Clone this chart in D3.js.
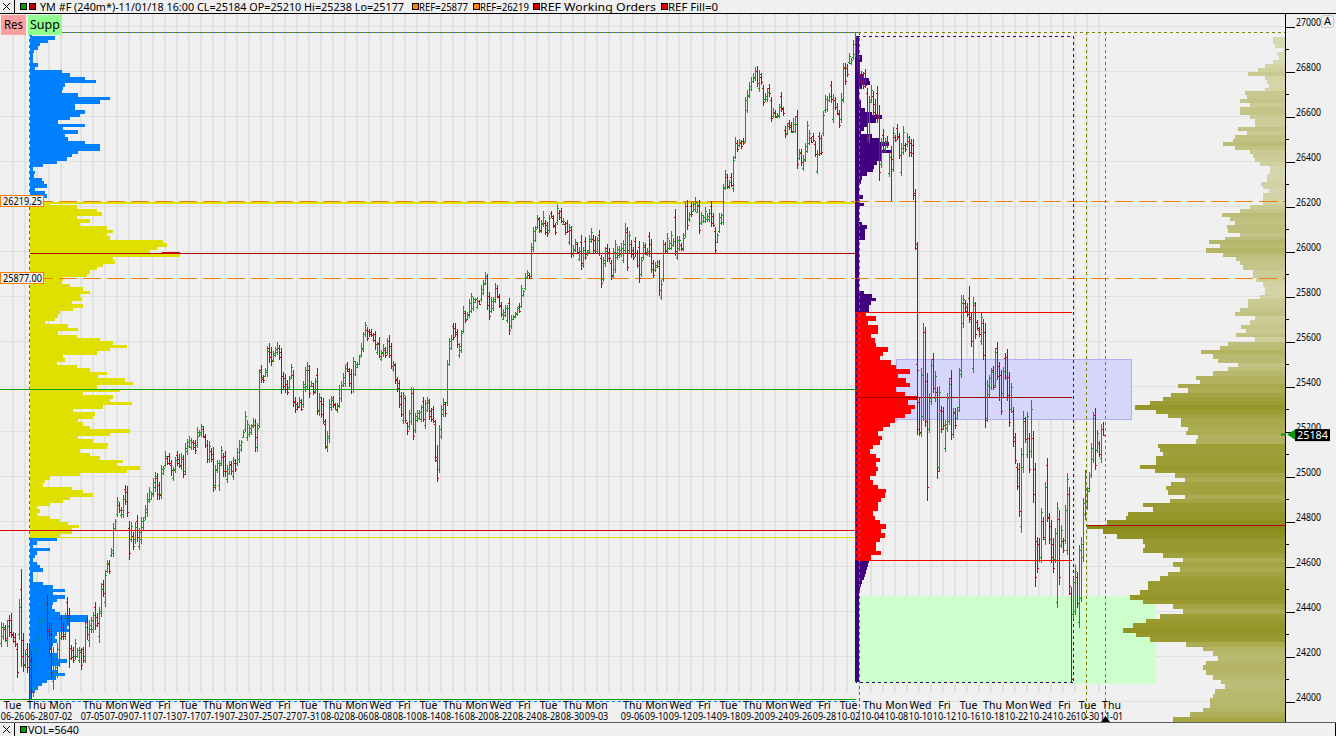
<!DOCTYPE html>
<html><head><meta charset="utf-8">
<script src="https://cdnjs.cloudflare.com/ajax/libs/d3/7.8.5/d3.min.js"></script>
<style>html,body{margin:0;padding:0;background:#f0f0f0;overflow:hidden}svg{display:block}</style>
</head><body><div id="c"></div>
<script>
// ---------- DATA: [high, low, open, close] per 240-minute bar ----------
const barsJun = [[24352,24241,24260,24330],[24348,24271,24290,24330],[24338,24264,24320,24280],[24360,24241,24270,24335],[24382,24286,24360,24305],[24390,24278,24360,24300],[24308,24256,24295,24265],[24301,24241,24285,24255],[24256,24101,24230,24130],[24452,24271,24300,24420],[24586,24153,24500,24200],[24301,24130,24270,24160],[24227,24145,24165,24210],[24256,24123,24230,24150],[24256,24004,24200,24040],[24227,24004,24180,24040],[24271,24019,24060,24230],[24301,24123,24160,24270],[24316,24197,24220,24290],[24382,24249,24280,24350],[24434,24301,24330,24410],[24464,24345,24370,24440],[24456,24330,24360,24430],[24471,24271,24430,24310],[24345,24197,24320,24230],[24345,24093,24300,24130],[24241,24049,24090,24200],[24167,24093,24110,24150],[24256,24101,24130,24230],[24315,24153,24180,24280],[24382,24271,24370,24290],[24345,24271,24330,24290],[24389,24271,24300,24370],[24464,24345,24440,24370],[24412,24145,24380,24190],[24249,24182,24235,24195],[24241,24167,24225,24180],[24274,24182,24200,24260],[24234,24189,24200,24225],[24241,24167,24180,24225],[24234,24138,24220,24160],[24241,24167,24230,24180],[24360,24167,24200,24330],[24375,24271,24350,24300],[24360,24241,24270,24340],[24375,24301,24320,24360],[24397,24301,24320,24380],[24441,24315,24420,24340],[24389,24330,24375,24345],[24419,24256,24290,24390],[24526,24375,24400,24500],[24537,24464,24520,24480],[24582,24419,24440,24560],[24626,24567,24580,24615],[24626,24564,24610,24580],[24678,24641,24650,24670],[24789,24641,24660,24770],[24811,24760,24770,24800]];
const barsJul1 = [[24907,24818,24830,24890],[24886,24834,24870,24850],[24864,24812,24825,24850],[24916,24812,24830,24900],[24960,24871,24940,24890],[24956,24819,24930,24840],[24800,24627,24770,24660],[24797,24708,24720,24780],[24752,24671,24735,24690],[24797,24700,24720,24775],[24826,24708,24800,24730],[24767,24671,24690,24750],[24819,24700,24720,24800],[24819,24760,24775,24805],[24871,24805,24820,24855]];
const barsJul2 = [[24926,24819,24840,24900],[24953,24879,24890,24935],[24930,24893,24900,24920],[24993,24908,24925,24975],[25019,24930,24950,25000],[25012,24893,24990,24920],[24975,24893,24960,24915],[25049,24898,24920,25030],[25044,25004,25015,25035],[25111,25041,25050,25090],[25089,25049,25080,25060],[25104,25049,25090,25060],[25071,25001,25050,25025],[25041,24978,24990,25025],[25086,25012,25030,25070],[25111,25046,25095,25060],[25096,25034,25075,25050],[25101,25027,25045,25085],[25093,24993,25075,25010],[25145,25004,25020,25125],[25164,25093,25110,25150],[25178,25123,25135,25160],[25167,25116,25130,25150],[25160,25116,25150,25130],[25160,25098,25145,25115],[25219,25123,25140,25195],[25204,25175,25180,25195],[25231,25175,25185,25220],[25222,25167,25210,25180],[25185,25126,25175,25140],[25160,25056,25140,25075],[25156,25056,25075,25135],[25123,25064,25110,25075],[25130,24930,25100,24950],[25049,24938,24960,25030],[25071,25012,25025,25060],[25071,24933,24960,25050],[25135,25044,25060,25115],[25101,24997,25085,25020],[25111,24997,25090,25020],[25049,24970,24985,25030],[25067,25004,25015,25050],[25067,25004,25055,25020],[25086,24982,25000,25070],[25074,25019,25060,25030],[25123,25046,25060,25105],[25160,25059,25075,25140],[25160,25108,25120,25150],[25204,25167,25175,25195],[25289,25197,25210,25265],[25249,25157,25175,25230],[25227,25175,25185,25215],[25231,25182,25195,25220],[25258,25212,25225,25245],[25253,25108,25225,25175],[25234,25108,25130,25215],[25474,25212,25225,25460],[25493,25412,25470,25430],[25449,25412,25440,25425],[25478,25438,25445,25470],[25578,25441,25460,25555],[25589,25504,25570,25530],[25572,25490,25550,25510],[25557,25508,25515,25545],[25575,25530,25540,25565],[25594,25538,25550,25570],[25582,25515,25570,25530],[25567,25364,25550,25445],[25464,25382,25445,25400],[25453,25367,25435,25385],[25427,25360,25410,25375],[25444,25385,25395,25430],[25498,25429,25440,25485],[25471,25308,25450,25330],[25352,25281,25335,25300],[25330,25293,25320,25305],[25350,25301,25310,25340],[25342,25289,25330,25300],[25422,25301,25320,25410],[25486,25375,25395,25470],[25505,25382,25400,25490],[25493,25348,25470,25370],[25422,25394,25400,25415],[25412,25360,25400,25375],[25434,25363,25380,25420],[25478,25271,25450,25295],[25367,25268,25290,25350],[25350,25256,25335,25275],[25345,25231,25320,25245],[25252,25120,25230,25135],[25200,25108,25130,25180],[25341,25145,25170,25320]];
const barsAug = [[25356,25291,25305,25340],[25356,25301,25345,25320],[25323,25294,25315,25300],[25323,25282,25295,25310],[25405,25301,25315,25385],[25420,25331,25345,25405],[25457,25397,25405,25440],[25494,25397,25415,25480],[25508,25464,25500,25475],[25479,25397,25465,25415],[25474,25365,25455,25385],[25531,25368,25385,25510],[25513,25445,25455,25500],[25508,25479,25485,25500],[25538,25494,25500,25530],[25590,25531,25540,25570],[25642,25553,25565,25630],[25685,25620,25630,25670],[25661,25600,25650,25615],[25654,25620,25645,25630],[25652,25617,25640,25625],[25634,25597,25625,25605],[25645,25560,25630,25585],[25597,25538,25550,25585],[25617,25523,25590,25535],[25560,25513,25520,25550],[25587,25531,25545,25570],[25572,25526,25560,25540],[25612,25538,25550,25600],[25627,25526,25600,25540],[25590,25476,25580,25490],[25511,25464,25475,25500],[25501,25409,25495,25425],[25439,25375,25430,25390],[25427,25301,25415,25320],[25375,25261,25355,25275],[25375,25231,25250,25360],[25356,25237,25345,25250],[25242,25183,25235,25200],[25294,25205,25220,25280],[25397,25227,25245,25385],[25390,25160,25370,25180],[25279,25193,25205,25265],[25294,25242,25250,25280],[25294,25249,25260,25285],[25316,25242,25255,25305],[25353,25242,25335,25255],[25338,25209,25225,25325],[25350,25286,25295,25340],[25341,25249,25330,25265],[25301,25242,25290,25255],[25313,25234,25300,25245],[25249,25064,25230,25085],[25138,24975,25070,24990],[25227,25012,25030,25210],[25316,25163,25180,25300],[25345,25264,25275,25330],[25331,25264,25320,25280],[25516,25313,25330,25500],[25612,25489,25500,25600],[25627,25560,25570,25610],[25679,25605,25665,25620],[25679,25617,25660,25630],[25652,25568,25640,25585],[25590,25526,25540,25580],[25649,25545,25560,25635],[25756,25634,25645,25735],[25734,25682,25725,25695],[25731,25694,25700,25720],[25785,25701,25715,25770],[25812,25723,25735,25800],[25797,25735,25745,25785],[25790,25768,25772,25785],[25794,25741,25750,25780],[25782,25760,25778,25765],[25849,25775,25785,25830],[25871,25805,25815,25855],[25905,25849,25860,25890],[25896,25738,25880,25760],[25819,25694,25800,25710],[25794,25726,25735,25780],[25797,25734,25745,25785],[25856,25768,25780,25835],[25849,25790,25835,25800],[25809,25745,25795,25755],[25775,25708,25760,25720],[25741,25694,25700,25730],[25760,25705,25715,25745],[25760,25679,25695,25745],[25790,25627,25770,25650],[25716,25652,25665,25700],[25716,25694,25700,25710],[25731,25701,25708,25725],[25753,25711,25720,25745],[25768,25726,25755,25735],[25849,25745,25755,25835],[25827,25797,25805,25820],[25901,25827,25835,25885],[25916,25874,25880,25905],[25901,25874,25895,25880]];
const barsSep1 = [[26034,25876,25890,26020],[26108,25997,26010,26090],[26111,26042,26050,26100],[26160,26096,26105,26145],[26153,26079,26140,26095],[26138,26079,26090,26125],[26178,26108,26120,26150],[26138,26071,26125,26085],[26130,26064,26115,26080],[26160,26079,26095,26145],[26179,26145,26170,26155],[26160,26101,26145,26115],[26123,26071,26110,26085],[26209,26116,26130,26190],[26182,26138,26170,26150],[26193,26123,26180,26135],[26145,26116,26120,26135],[26130,26071,26120,26085],[26138,26079,26125,26090],[26119,26027,26040,26105],[26113,25968,26095,25990],[26027,25975,25985,26010],[26053,25997,26005,26040],[26042,25985,26030,25995],[26016,25957,25965,26000],[26071,25916,26040,25945],[26019,25926,25940,26005],[26064,25960,26045,25975],[26005,25978,25985,25995],[26071,25990,26005,26055],[26101,26034,26045,26085],[26071,25990,26055,26005],[26067,25987,26050,26000],[26064,25990,26000,26050],[26093,25978,26070,25990],[25982,25837,25970,25860],[25975,25861,25875,25960],[26019,25931,25945,26000],[26031,25953,26015,25970],[26012,25953,25995,25970],[25960,25871,25945,25890],[26012,25879,25895,25995],[26049,25904,25920,26030],[26022,25960,25975,26010],[26022,25968,25980,26005],[26034,25975,25985,26015],[26049,25945,25960,26030],[26123,25990,26005,26100],[26108,25913,26085,25930],[26090,25990,26005,26070],[26049,25968,26030,25985],[26019,25960,26005,25975],[26064,25972,26045,25990],[26005,25923,25990,25940],[26046,25856,26020,25880],[25975,25886,25900,25960],[26042,25960,25975,26025],[26034,25982,26020,25995],[26012,25978,25985,26000],[26086,25975,26065,25990],[26052,25901,26030,25920],[25960,25879,25945,25895],[25953,25908,25915,25940],[25960,25923,25930,25950],[25960,25800,25935,25825],[25871,25782,25795,25855],[26049,25864,25875,26030],[26042,25990,26030,26000],[26079,25990,26005,26060],[26049,26005,26015,26035],[26089,26005,26015,26070],[26056,26019,26025,26045],[26185,25978,26150,26000],[26068,25960,25975,26050],[26067,26002,26012,26050],[26034,26002,26025,26010],[26079,26002,26012,26060],[26218,26056,26070,26200],[26227,26093,26200,26115],[26175,26130,26140,26165],[26216,26153,26200,26165],[26219,26175,26180,26210],[26239,26175,26185,26220],[26216,26167,26175,26205],[26227,26076,26200,26095],[26175,26116,26125,26160],[26160,26126,26135,26150],[26197,26123,26135,26180],[26167,26130,26140,26155],[26185,26130,26140,26170],[26222,26108,26200,26125],[26167,26105,26155,26115],[26105,25990,26090,26005],[26082,26034,26040,26070],[26167,26079,26090,26150],[26170,26116,26125,26160],[26298,26116,26130,26280]];
const barsSep2 = [[26360,26271,26285,26340],[26342,26274,26330,26290],[26316,26274,26285,26305],[26345,26286,26330,26295],[26422,26264,26280,26405],[26505,26407,26420,26480],[26493,26441,26480,26455],[26496,26461,26470,26485],[26493,26453,26480,26465],[26501,26471,26490,26480],[26686,26478,26490,26670],[26715,26612,26625,26695],[26752,26678,26690,26735],[26775,26712,26720,26755],[26789,26745,26755,26775],[26816,26757,26770,26800],[26822,26727,26800,26745],[26804,26708,26725,26785],[26789,26738,26775,26750],[26738,26644,26725,26660],[26704,26664,26675,26690],[26723,26664,26675,26705],[26742,26686,26725,26700],[26686,26575,26670,26590],[26634,26590,26600,26620],[26627,26590,26615,26600],[26612,26590,26595,26605],[26653,26590,26600,26640],[26708,26619,26690,26635],[26641,26600,26630,26615],[26555,26501,26540,26520],[26567,26515,26525,26555],[26582,26538,26570,26550],[26575,26523,26560,26535],[26590,26523,26530,26565],[26600,26523,26535,26565],[26627,26364,26600,26385],[26452,26404,26415,26440],[26452,26379,26435,26395],[26427,26357,26370,26405],[26481,26397,26410,26465],[26578,26434,26445,26560],[26538,26471,26480,26525],[26508,26478,26500,26485],[26523,26486,26510,26495],[26490,26419,26475,26430],[26449,26342,26355,26430],[26530,26422,26510,26435],[26515,26427,26500,26440],[26622,26511,26525,26605],[26693,26612,26625,26675],[26690,26619,26630,26670],[26701,26664,26670,26690],[26757,26659,26740,26675],[26698,26570,26585,26670],[26686,26627,26670,26640],[26656,26604,26640,26615],[26627,26548,26610,26560],[26701,26570,26585,26670],[26834,26659,26675,26815],[26837,26738,26820,26755],[26831,26775,26815,26785],[26878,26831,26840,26865],[26856,26826,26835,26850],[26938,26849,26860,26920],[26970,26863,26875,26950]];
const barsOct1 = [[26953,26797,26930,26815],[26834,26738,26815,26755],[26802,26738,26785,26750],[26797,26719,26780,26735],[26808,26723,26790,26740],[26723,26482,26700,26510],[26689,26482,26500,26660],[26738,26657,26670,26715],[26709,26598,26690,26620],[26674,26590,26655,26610],[26734,26568,26700,26590],[26649,26309,26600,26350],[26501,26368,26385,26480],[26541,26435,26515,26455],[26501,26442,26455,26485],[26509,26457,26490,26470],[26435,26328,26345,26420],[26467,26223,26440,26410],[26550,26349,26365,26525],[26516,26486,26505,26495],[26565,26494,26545,26510],[26523,26408,26505,26425],[26479,26335,26350,26460],[26556,26427,26440,26530],[26479,26442,26470,26455],[26523,26464,26475,26505],[26509,26420,26490,26440],[26497,26420,26480,26435],[26497,26227,26470,26260],[26275,26005,26250,26030],[26039,25430,26015,25470]];
const barsOct2 = [[25533,25182,25500,25210],[25353,25178,25330,25195],[25479,25172,25190,25450],[25678,25246,25265,25640],[25661,25219,25640,25245],[25456,24891,25420,24950],[25367,25193,25210,25345],[25519,25316,25335,25495],[25545,25367,25520,25390],[25467,25330,25345,25445],[25397,24987,25375,25020],[25400,25019,25040,25375],[25311,25190,25295,25210],[25308,25205,25290,25225],[25249,25108,25125,25230],[25367,25197,25215,25345],[25434,25227,25245,25410],[25471,25160,25435,25185],[25301,25168,25185,25280],[25301,25209,25285,25225],[25308,25249,25260,25295],[25479,25286,25305,25455],[25804,25434,25470,25770],[25804,25659,25680,25785],[25782,25723,25770,25735],[25767,25708,25750,25720],[25844,25678,25790,25700],[25723,25575,25705,25600],[25797,25459,25480,25770],[25775,25607,25760,25630],[25693,25649,25685,25660],[25664,25619,25650,25630],[25723,25582,25600,25705],[25696,25516,25680,25540],[25678,25215,25640,25250],[25427,25242,25260,25405],[25449,25353,25365,25435],[25479,25382,25395,25460],[25489,25382,25470,25395],[25567,25390,25405,25550],[25597,25427,25570,25445],[25508,25335,25490,25350],[25471,25271,25450,25290],[25486,25353,25370,25465],[25545,25427,25525,25440],[25564,25335,25530,25360],[25464,25219,25440,25240],[25412,25282,25300,25395],[25308,25130,25290,25155],[25190,25052,25175,25070],[25056,24938,25040,24955],[25056,24819,25030,24845],[25123,24748,24780,25100],[25289,25012,25040,25260],[25264,25145,25245,25165],[25286,25079,25100,25265],[25193,25012,25170,25030],[25338,25082,25110,25300],[25200,24882,25170,24920],[25059,24508,25030,24550],[24727,24570,24710,24590],[24723,24619,24700,24640],[24860,24612,24640,24840],[24819,24715,24800,24730],[24975,24693,24720,24950],[25079,24797,25050,24820],[24834,24700,24815,24720],[24804,24612,24780,24640],[24723,24567,24700,24590],[24767,24612,24630,24745],[24886,24412,24440,24860],[24849,24515,24810,24550],[24782,24678,24695,24760],[24723,24656,24710,24670],[24871,24700,24715,24850],[25012,24649,24670,24985],[24953,24471,24920,24510],[24508,24083,24480,24100],[24552,24363,24385,24530],[24604,24382,24400,24580],[24575,24412,24550,24435],[24693,24326,24350,24670],[24730,24441,24460,24700],[24901,24619,24640,24880],[25027,24804,24830,25000],[24953,24849,24865,24935],[25019,24931,24945,25005],[25145,24990,25005,25125],[25283,25056,25075,25260],[25301,25027,25270,25050],[25204,25101,25115,25190],[25157,25086,25145,25100],[25231,25059,25080,25210],[25238,25177,25210,25184]];

// bar slot at which each run of bars begins
const barRuns = [[0,barsJun],[58,barsJul1],[73,barsJul2],[165,barsAug],[265,barsSep1],[362,barsSep2],[428,barsOct1],[458,barsOct2]];

// Volume profile at the left
const leftBlueTop = [2,25,18,10,8,4,3,3,3,8,5,32,40,55,66,35,33,32,48,80,70,45,45,55,50,40,28,55,33,48,35,38,55,70,70,48,42,37,27,13,3,5,4,12,14,17,5,15,17,3];
const leftYellowA = [20,47,67,72,47,60,50,77,83,77,80];
const leftYellowB = [133,137,127,120,150,83,85,73,67,60,57,33,32,40,53,60,50,52,42,53,43,30,28,25,15,38,48,28,47,70,83,97,80,67,33,35,27,47,60,77,68,95,103,67,90,53,83,80,102,73,43,65,63,48,53,60,100,80,48,63,78,77,50,60,70,93,87,110,97,50,20,15,13,42,53,63,40];
const leftYellowC = [33,20,7,10,7,20,30,38,49,42,42,30];
const leftBlueLow = [27,7,3,20,7,5,3,7,10,13,3,3,3,13,23,35,23,35,27,23,22,25,30,58,57,40,37,40,27,25,27,23,22,20,27,27,37,30,22,27,35,25,17,12,8,5,2,2];

// Volume profile in the middle
const midPurpleA = [2,2,2,2,2,6,6,4,2,2,8,13,14,6,3,2,2,5,5,9,16,26,20,11,8,5,16,23,33,25,35,25,25,21,18,17,11,6,5,3,3,2,7,2,8,2,2,2,3,6,11,9,9,9,3,2];
const midPurpleB = [2,2,2,2,2,3,2,2,2,2];
const midPurpleC = [2,3,3,8,16,20,15,13,13];
const midRed = [11,21,13,23,23,16,20,21,33,28,25,36,41,55,43,51,55,41,50,63,53,60,56,50,40,35,28,23,27,25,18,15,21,25,21,23,21,15,18,23,31,30,26,23,23,18,20,25,31,26,30,25,21,21,26,16];
const midPurpleD = [13,12,11,10,9,8,6,5,4,3,3,2,2,2,2,2,2,2,2,2,2,2,2,2,2,2,2,2,2,2,2,2,2,2,2,2];

// Volume profile at the right
const rightTop = [12,12,10,2,8,6,12,20,27,37,20,18,16,20,40,38,45,35,45,45,35,30,30,47,38,50,52,62,50,35,32,30,25,15,15,18,18,24,22,16,22,22,22,35,45,63,55,50,58,57,45,60,76,65];
const rightMid = [79,62,49,45,42,32,32,29,22,20,20,25,37,37,45,50,30,35,44,39,49,30,57,65,84,72,67,47,57,72,89,85,107,97,114,122,135,150,129,117,104,104,97,99,87,89,127,125,122,129,129,145,130,110,100,114,119,117,100,115,142,132,157,159];
const rightLow = [178,198,182,168,142,140,142,122,102,112,105,117,125,137,137,145,155,142,112,102,125,139,152,162,149,135,99,82,72,67,79,82,79,72,64,60,70,72,75,75,82,95,112];

// Price axis and reference levels
const majorTicks = [27000,26800,26600,26400,26200,26000,25800,25600,25400,25200,25000,24800,24600,24400,24200,24000];
const minorTicks = [26900,26700,26500,26300,26100,25900,25700,25500,25300,25100,24900,24700,24500,24300,24100];
const refLevels = [26219.25,25877];
const lastPrice = 25184;

// Date axis
const dateSlots = [5.5,17.5,29.5,45.5,57.5,69.5,81.5,93.5,105.5,117.5,129.5,141.5,153.5,165.5,177.5,189.5,201.5,213.5,225.5,237.5,249.5,261.5,273.5,285.5,297.5,315.5,327.5,339.5,351.5,363.5,375.5,387.5,399.5,411.5,423.5,435.5,447.5,459.5,471.5,483.5,495.5,507.5,519.5,531.5,543,555];
const dayLabels = ["Tue","Thu","Mon","Thu","Mon","Wed","Fri","Tue","Thu","Mon","Wed","Fri","Tue","Thu","Mon","Wed","Fri","Tue","Thu","Mon","Wed","Fri","Tue","Thu","Mon","Thu","Mon","Wed","Fri","Tue","Thu","Mon","Wed","Fri","Tue","Thu","Mon","Wed","Fri","Tue","Thu","Mon","Wed","Fri","Tue","Thu"];
const dateLabels = ["06-26","06-28","07-02","07-05","07-09","07-11","07-13","07-17","07-19","07-23","07-25","07-27","07-31","08-02","08-06","08-08","08-10","08-14","08-16","08-20","08-22","08-24","08-28","08-30","09-03","09-06","09-10","09-12","09-14","09-18","09-20","09-24","09-26","09-28","10-02","10-04","10-08","10-10","10-12","10-16","10-18","10-22","10-24","10-26","10-30","11-01"];

// ---------- DRAWING ----------
const W=1336,H=736, axisX=1285, plotBottom=722;
const svg=d3.select("#c").append("svg").attr("width",W).attr("height",H).style("background","#f0f0f0");
const y=d3.scaleLinear().domain([27000,24000]).range([26,701]);
const x=d3.scaleLinear().domain([0,551]).range([1,1103]);
const vol=d3.scaleLinear().domain([0,200]).range([0,200]);
const py=p=>Math.round(y(p));
const font='"Noto Sans",sans-serif';

function hline(yy,x1,x2,color,w,dash){return svg.append("line").attr("x1",x1).attr("x2",x2).attr("y1",yy).attr("y2",yy).attr("stroke",color).attr("stroke-width",w||1).attr("stroke-dasharray",dash||null).attr("shape-rendering","crispEdges");}
function vline(xx,y1,y2,color,w,dash){return svg.append("line").attr("x1",xx).attr("x2",xx).attr("y1",y1).attr("y2",y2).attr("stroke",color).attr("stroke-width",w||1).attr("stroke-dasharray",dash||null).attr("shape-rendering","crispEdges");}

// grid
const bands=[...d3.range(12,72,12),...d3.range(80,660,12),...d3.range(666,1100,12)];
svg.append("g").selectAll("rect").data(bands).join("rect").attr("x",d=>d).attr("y",14).attr("width",2).attr("height",679).attr("fill","#e2e2e2");
majorTicks.forEach(t=>hline(py(t)+0.5,0,axisX,"#e0e0e0",1));

// green and lavender zones
svg.append("rect").attr("x",854).attr("y",596).attr("width",302).attr("height",88).attr("fill","#ccffcc");
svg.append("rect").attr("x",896.5).attr("y",359.5).attr("width",235).attr("height",60).attr("fill","#d6d6fc").attr("stroke","#b0b0f5").attr("shape-rendering","crispEdges");
svg.append("circle").attr("cx",896).attr("cy",420).attr("r",1.5).attr("fill","none").attr("stroke","#b0b0f5");

// profiles
function rows(values,top,bottom){
  const step=(top-bottom)/values.length;
  return values.map((v,i)=>({v,p1:top-i*step,p2:top-(i+1)*step}));
}
function drawProfile(rowsList,color,x0,dir){
  svg.append("g").attr("shape-rendering","crispEdges").selectAll("rect").data(rowsList).join("rect")
    .attr("x",d=>dir>0?x0:x0-vol(d.v))
    .attr("y",d=>py(d.p1))
    .attr("width",d=>vol(d.v))
    .attr("height",d=>Math.max(1,py(d.p2)-py(d.p1)))
    .attr("fill",typeof color==="function"?d=>color(d.v):color);
}
const blue="#0080ff",yel="#e0e000",purple="#400080",red="#ff0000";
drawProfile(rows(leftBlueTop,26969,26222),blue,30,1);
drawProfile(rows(leftYellowA,26219,26049),yel,30,1);
drawProfile(rows(leftYellowB,26049,24893),yel,30,1);
drawProfile(rows(leftYellowC,24893,24727),yel,30,1);
drawProfile(rows(leftBlueLow,24725,24005),blue,30,1);
svg.append("rect").attr("x",855).attr("y",py(26956)).attr("width",4).attr("height",py(24083)-py(26956)).attr("fill",purple);
drawProfile(rows(midPurpleA,26956,26013),purple,856,1);
drawProfile(rows(midPurpleB,26013,25871),purple,856,1);
drawProfile(rows(midPurpleC,25871,25730),purple,856,1);
drawProfile(rows(midRed,25730,24627),red,855,1);
drawProfile(rows(midPurpleD,24627,24083),purple,856,1);
const oliveScale=d3.scaleLinear().domain([5,45,90,130,195]).range(["#dcdcb8","#c4c488","#b0b05c","#9c9c34","#8a8a18"]).clamp(true);
drawProfile(rows(rightTop,26953,26012),oliveScale,axisX,-1);
drawProfile(rows(rightMid,26012,24804),oliveScale,axisX,-1);
drawProfile(rows(rightLow,24804,23908),oliveScale,axisX,-1);

// horizontal levels
hline(202.5,0,855,yel,2);
hline(537.5,30,855,yel,1);
hline(253.5,30,855,"#a80000",1);
svg.append("rect").attr("x",162).attr("y",252).attr("width",18).attr("height",2).attr("fill","#c80000");
hline(530.5,0,855,"#e00000",1);
hline(389.5,0,857,"#00a000",1);
hline(699.5,0,856,"#00a000",1);
refLevels.forEach(l=>hline(Math.floor(y(l)+0.3)+0.5,35,axisX,"#f08010",1,"18 6"));
hline(312.5,857,1072,"#f00000",1);
hline(560.5,857,1072,"#f00000",1);
hline(397.5,857,1072,"#a00000",1);
hline(525.5,1086,axisX,"#b00000",1);

// dashed frames
hline(32.5,30,858,"#808000",1,"3 3");
svg.append("line").attr("x1",33).attr("x2",858).attr("y1",32.5).attr("y2",32.5).attr("stroke",blue).attr("stroke-dasharray","3 3").attr("shape-rendering","crispEdges");
hline(32.5,858,axisX,"#808000",1,"3 3");
vline(29.5,33,701,blue,1,"3 3");
hline(701.5,30,858,blue,1,"3 3");
vline(859.5,32,722,blue,1,"3 3");
svg.append("rect").attr("x",856.5).attr("y",36.5).attr("width",217).attr("height",646).attr("fill","none").attr("stroke",purple).attr("stroke-dasharray","3 3").attr("shape-rendering","crispEdges");
vline(1086.5,32,722,"#808000",1,"3 3");
vline(1105.5,32,722,"#808000",1,"3 3");

// OHLC bars
const bars=barRuns.flatMap(([s,list])=>list.map((r,i)=>({slot:s+i,h:r[0],l:r[1],o:r[2],c:r[3]})));
const barColor=d=>d.c>=d.o?"#00a800":"#d40000";
const gb=svg.append("g").attr("shape-rendering","crispEdges");
const bar=gb.selectAll("g").data(bars).join("g").attr("stroke",barColor);
bar.append("line").attr("x1",d=>x(d.slot)+0.5).attr("x2",d=>x(d.slot)+0.5).attr("y1",d=>py(d.h)).attr("y2",d=>py(d.l));
bar.append("line").attr("x1",d=>x(d.slot)-1).attr("x2",d=>x(d.slot)).attr("y1",d=>py(d.o)+0.5).attr("y2",d=>py(d.o)+0.5);
bar.append("line").attr("x1",d=>x(d.slot)+1).attr("x2",d=>x(d.slot)+2).attr("y1",d=>py(d.c)+0.5).attr("y2",d=>py(d.c)+0.5);

// reference tags
refLevels.forEach(l=>{
  const yy=Math.floor(y(l)+0.3);
  svg.append("rect").attr("x",0.5).attr("y",yy-5.5).attr("width",43).attr("height",11).attr("fill","#f0f0f0").attr("stroke","#ff8000").attr("shape-rendering","crispEdges");
  svg.append("text").attr("x",3).attr("y",yy+3.5).attr("font-family",font).attr("font-size",10).attr("textLength",39).attr("lengthAdjust","spacingAndGlyphs").text(d3.format(".2f")(l));
});

// price axis
const gMajor=svg.append("g").attr("transform",`translate(${axisX},0.5)`).call(d3.axisRight(y).tickValues(majorTicks).tickSize(10).tickPadding(1).tickFormat(d3.format("d")));
gMajor.select(".domain").remove();
gMajor.selectAll("line").attr("stroke","#000").attr("shape-rendering","crispEdges");
gMajor.selectAll("text").attr("font-family",font).attr("font-size",10.5).attr("fill","#000").attr("dy",-1).attr("textLength",25).attr("lengthAdjust","spacingAndGlyphs");
const gMinor=svg.append("g").attr("transform",`translate(${axisX},0.5)`).call(d3.axisRight(y).tickValues(minorTicks).tickSize(4).tickFormat(""));
gMinor.select(".domain").remove();
gMinor.selectAll("line").attr("stroke","#000").attr("shape-rendering","crispEdges");
svg.append("rect").attr("x",axisX).attr("y",14).attr("width",1).attr("height",708).attr("fill","#000");

// last price
const ly=y(lastPrice);
svg.append("rect").attr("x",1281).attr("y",ly-1).attr("width",5).attr("height",2).attr("fill","#00a000");
svg.append("path").attr("d",d3.line()([[1287,ly],[1295,ly-5],[1295,ly+5]])+"Z").attr("fill","#00a000");
svg.append("rect").attr("x",1295).attr("y",ly-5.5).attr("width",35).attr("height",12).attr("fill","#000");
svg.append("text").attr("x",1297).attr("y",ly+4.5).attr("fill","#fff").attr("font-family",font).attr("font-size",11).attr("textLength",31).attr("lengthAdjust","spacingAndGlyphs").text(lastPrice);

// date axis
function dateAxis(labels,yy,len){
  const g=svg.append("g").attr("transform",`translate(0,${yy})`).call(d3.axisBottom(x).tickValues(dateSlots).tickSize(0).tickPadding(0).tickFormat((d,i)=>labels[i]));
  g.select(".domain").remove();
  g.selectAll("text").attr("font-family",font).attr("font-size",10.5).attr("fill","#000").attr("dy","0").attr("y",0);
  if(len) g.selectAll("text").attr("textLength",len).attr("lengthAdjust","spacingAndGlyphs");
}
dateAxis(dayLabels,709,null);
dateAxis(dateLabels,720,23.5);
svg.append("path").attr("d",d3.line()([[1105.5,716],[1101,722],[1110,722]])+"Z").attr("fill","#000");

// header
svg.append("rect").attr("x",0).attr("y",0).attr("width",W).attr("height",13).attr("fill","#f0f0f0");
hline(13.5,0,W,"#000",1);
vline(14.5,0,13,"#000",1);
function xGlyph(cy){svg.append("path").attr("d",`M3 ${cy-4}L10 ${cy+3}M10 ${cy-4}L3 ${cy+3}`).attr("stroke","#000").attr("fill","none");}
xGlyph(7);
function square(px,cy,color){svg.append("rect").attr("x",px+0.5).attr("y",cy-3.5).attr("width",6).attr("height",6).attr("fill",color).attr("stroke","#000").attr("shape-rendering","crispEdges");}
square(20,7,"#00a000");square(29,7,"#c00000");
function hdr(tx,str,len){svg.append("text").attr("x",tx).attr("y",11).attr("font-family",font).attr("font-size",11).attr("fill","#000").attr("textLength",len).attr("lengthAdjust","spacingAndGlyphs").text(str);}
hdr(40,"YM  #F (240m*)-11/01/18 16:00 CL=25184 OP=25210 Hi=25238 Lo=25177",364);
square(412,7,"#ff8000");hdr(419,"REF=25877",49);
square(473,7,"#ff8000");hdr(480,"REF=26219",49);
square(533,7,"#e00000");hdr(540,"REF Working Orders",116);
square(661,7,"#e00000");hdr(668,"REF Fill=0",50);

// Res / Supp buttons
svg.append("rect").attr("x",1).attr("y",15).attr("width",25).attr("height",20).attr("fill","#ff9f9f");
svg.append("rect").attr("x",28).attr("y",15).attr("width",34).attr("height",20).attr("fill","#8fff8f");
[["Res",4,19],["Supp",30,30]].forEach(([t,tx,len])=>svg.append("text").attr("x",tx).attr("y",29).attr("font-family",font).attr("font-size",13).attr("fill","#000").attr("textLength",len).attr("lengthAdjust","spacingAndGlyphs").text(t));

// A button
svg.append("rect").attr("x",1321.5).attr("y",15.5).attr("width",12).attr("height",12).attr("rx",2).attr("fill","#f0f0f0").attr("stroke","#c8c8c8");
svg.append("text").attr("x",1327.5).attr("y",25).attr("text-anchor","middle").attr("font-family",font).attr("font-size",11).text("A");

// bottom panel
svg.append("rect").attr("x",0).attr("y",722).attr("width",W).attr("height",14).attr("fill","#f0f0f0");
hline(722.5,0,W,"#606060",1);
vline(14.5,723,736,"#000",1);
vline(1335.5,723,736,"#000",1);
svg.append("path").attr("d","M3 726L10 733M10 726L3 733").attr("stroke","#000").attr("fill","none");
square(20,730,"#00a000");
svg.append("text").attr("x",28).attr("y",734).attr("font-family",font).attr("font-size",11).attr("textLength",51).attr("lengthAdjust","spacingAndGlyphs").text("VOL=5640");
</script></body></html>
